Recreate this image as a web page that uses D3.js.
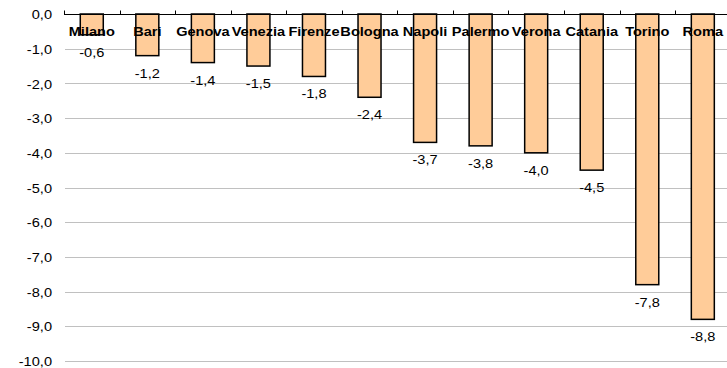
<!DOCTYPE html>
<html>
<head>
<meta charset="utf-8">
<script src="https://cdn.jsdelivr.net/npm/d3@7/dist/d3.min.js"></script>
<style>
  html, body { margin: 0; padding: 0; background: #fff; }
  svg { display: block; font-family: "Liberation Sans", Arial, sans-serif; }
</style>
</head>
<body>
<svg id="chart" width="727" height="368"></svg>
<script>
// Città e variazione percentuale
const cities = ["Milano", "Bari", "Genova", "Venezia", "Firenze", "Bologna", "Napoli", "Palermo", "Verona", "Catania", "Torino", "Roma"];
const values = [-0.6, -1.2, -1.4, -1.5, -1.8, -2.4, -3.7, -3.8, -4.0, -4.5, -7.8, -8.8];
const yTicks = [0, -1, -2, -3, -4, -5, -6, -7, -8, -9, -10];

const svg = d3.select("#chart");
const plotLeft = 64, plotRight = 730.6, plotTop = 14, plotBottom = 361;
const fontSize = 13.5;
const stretch = 1.08; // testo leggermente allargato

const fmt = v => d3.format(".1f")(v).replace(".", ",").replace("−", "-");
const place = (px, py) => `translate(${px},${py}) scale(${stretch},1)`;

const x = d3.scaleBand()
  .domain(cities)
  .range([plotLeft, plotRight])
  .paddingInner(0.586)
  .paddingOuter(0.293);

const y = d3.scaleLinear().domain([-10, 0]).range([plotBottom, plotTop]);

// griglia orizzontale
svg.append("g")
  .selectAll("line")
  .data(yTicks.filter(d => d !== 0))
  .join("line")
  .attr("x1", plotLeft + 1).attr("x2", 727)
  .attr("y1", d => Math.round(y(d)) + 0.5).attr("y2", d => Math.round(y(d)) + 0.5)
  .attr("stroke", "#c0c0c0").attr("stroke-width", 1);

// etichette asse y
svg.append("g")
  .selectAll("text")
  .data(yTicks)
  .join("text")
  .attr("transform", d => place(52, y(d)))
  .attr("dy", "0.38em")
  .attr("text-anchor", "end")
  .attr("font-size", fontSize)
  .attr("fill", "#000")
  .text(d => fmt(d));

// barre
svg.append("g")
  .selectAll("rect")
  .data(cities)
  .join("rect")
  .attr("x", d => x(d))
  .attr("y", y(0))
  .attr("width", x.bandwidth())
  .attr("height", (d, i) => y(values[i]) - y(0))
  .attr("fill", "#ffcc99")
  .attr("stroke", "#000")
  .attr("stroke-width", 1.5);

// linea dello zero con tacche tra le categorie
const zeroY = Math.round(y(0)) + 0.5;
svg.append("line")
  .attr("x1", plotLeft).attr("x2", 727)
  .attr("y1", zeroY).attr("y2", zeroY)
  .attr("stroke", "#000").attr("stroke-width", 1);
svg.append("g")
  .selectAll("line")
  .data(d3.range(cities.length + 1))
  .join("line")
  .attr("x1", i => Math.round(plotLeft + i * x.step()) + 0.5)
  .attr("x2", i => Math.round(plotLeft + i * x.step()) + 0.5)
  .attr("y1", zeroY).attr("y2", zeroY - 4)
  .attr("stroke", "#000").attr("stroke-width", 1);

// nomi delle città
svg.append("g")
  .selectAll("text")
  .data(cities)
  .join("text")
  .attr("transform", d => place(x(d) + x.bandwidth() / 2, 36))
  .attr("text-anchor", "middle")
  .attr("font-size", fontSize)
  .attr("font-weight", "bold")
  .attr("fill", "#000")
  .text(d => d);

// valori sotto le barre
svg.append("g")
  .selectAll("text")
  .data(cities)
  .join("text")
  .attr("transform", (d, i) => place(x(d) + x.bandwidth() / 2, y(values[i]) + 22))
  .attr("text-anchor", "middle")
  .attr("font-size", fontSize)
  .attr("fill", "#000")
  .text((d, i) => fmt(values[i]));
</script>
</body>
</html>
